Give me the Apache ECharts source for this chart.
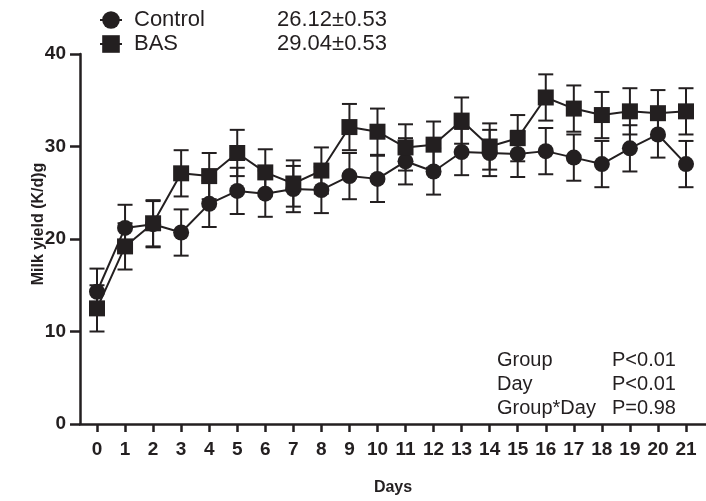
<!DOCTYPE html>
<html><head><meta charset="utf-8">
<script src="https://cdn.jsdelivr.net/npm/echarts@6/dist/echarts.min.js"></script>
<style>html,body{margin:0;padding:0;background:#fff}#c{width:706px;height:501px}</style>
</head><body><div id="c"></div>
<script>
// ---- data ----
const days = [0,1,2,3,4,5,6,7,8,9,10,11,12,13,14,15,16,17,18,19,20,21];
const controlMean = [14.3,21.2,21.6,20.7,23.8,25.2,24.9,25.4,25.3,26.8,26.5,28.4,27.3,29.4,29.3,29.2,29.5,28.8,28.1,29.8,31.3,28.1];
const controlSem  = [2.5,2.5,2.5,2.5,2.5,2.5,2.5,2.5,2.5,2.5,2.5,2.5,2.5,2.5,2.5,2.5,2.5,2.5,2.5,2.5,2.5,2.5];
const basMean = [12.5,19.2,21.7,27.1,26.8,29.3,27.2,26.0,27.4,32.1,31.6,29.9,30.2,32.8,30.0,30.9,35.3,34.1,33.4,33.8,33.6,33.8];
const basSem  = [2.5,2.5,2.5,2.5,2.5,2.5,2.5,2.5,2.5,2.5,2.5,2.5,2.5,2.5,2.5,2.5,2.5,2.5,2.5,2.5,2.5,2.5];
const seriesNames = ['Control','BAS'];
const legendStats = ['26.12±0.53','29.04±0.53'];
const yTicks = [0,10,20,30,40];
const effectNames = ['Group','Day','Group*Day'];
const effectP = ['P<0.01','P<0.01','P=0.98'];
const yAxisTitle = 'Milk yield (K/d)g';
const xAxisTitle = 'Days';

// ---- styling ----
const INK = '#231f20';
const FONT = '"Liberation Sans", Arial, Helvetica, sans-serif';

function errData(mean, sem){ return days.map((d,i)=>[d, mean[i]-sem[i], mean[i]+sem[i]]); }
function errRender(params, api){
  const x = api.value(0), lo = api.value(1), hi = api.value(2);
  const a = api.coord([x, lo]), b = api.coord([x, hi]);
  const hw = 7.5;
  const style = {stroke: INK, lineWidth: 2};
  return {type:'group', children:[
    {type:'line', shape:{x1:a[0], y1:a[1], x2:b[0], y2:b[1]}, style},
    {type:'line', shape:{x1:a[0]-hw, y1:a[1], x2:a[0]+hw, y2:a[1]}, style},
    {type:'line', shape:{x1:b[0]-hw, y1:b[1], x2:b[0]+hw, y2:b[1]}, style}
  ]};
}

const chart = echarts.init(document.getElementById('c'), null, {renderer:'canvas'});
const effectGraphics = [];
effectNames.forEach((n,i)=>{
  const y = 360 + i*24;
  effectGraphics.push({type:'text', x:497, y:y, style:{text:n, fill:INK, font:'20px '+FONT, textAlign:'left', textVerticalAlign:'middle'}});
  effectGraphics.push({type:'text', x:612, y:y, style:{text:effectP[i], fill:INK, font:'20px '+FONT, textAlign:'left', textVerticalAlign:'middle'}});
});

chart.setOption({
  animation:false,
  backgroundColor:'#fff',
  grid:{left:80, right:0, top:54, bottom:73, containLabel:false},
  legend:{
    data:seriesNames, orient:'vertical', left:99, top:9, padding:0, itemWidth:22, itemHeight:22, itemGap:2,
    formatter:function(name){ const i = seriesNames.indexOf(name); return '{a|'+name+'}{b|'+legendStats[i]+'}'; },
    textStyle:{color:INK, fontFamily:FONT, fontSize:22,
      rich:{a:{width:143, fontSize:22, fontFamily:FONT, color:INK, padding:[0,0,0,7]}, b:{fontSize:22, fontFamily:FONT, color:INK}}}
  },
  xAxis:{
    type:'value', min:-0.606, max:21.713,
    axisLine:{show:true, onZero:false, lineStyle:{color:INK, width:2.5}},
    axisTick:{show:true, customValues:days, length:8, lineStyle:{color:INK, width:2.5}},
    axisLabel:{customValues:days, color:INK, fontWeight:'bold', fontSize:19, fontFamily:FONT, margin:16},
    splitLine:{show:false},
    name:xAxisTitle, nameLocation:'middle', nameGap:56,
    nameTextStyle:{color:INK, fontWeight:'bold', fontSize:16, fontFamily:FONT}
  },
  yAxis:{
    type:'value', min:yTicks[0], max:yTicks[yTicks.length-1], interval:10,
    axisLine:{show:true, onZero:false, lineStyle:{color:INK, width:2.5}},
    axisTick:{show:true, length:10, lineStyle:{color:INK, width:2.5}},
    axisLabel:{color:INK, fontWeight:'bold', fontSize:19, fontFamily:FONT, margin:14},
    splitLine:{show:false}
  },
  graphic:[
    {type:'text', x:39, y:224, rotation:Math.PI/2,
     style:{text:yAxisTitle, fill:INK, font:'bold 16px '+FONT, textAlign:'center', textVerticalAlign:'middle'}}
  ].concat(effectGraphics),
  series:[
    {type:'custom', renderItem:errRender, data:errData(controlMean, controlSem), encode:{x:0, y:[1,2]}, z:2, silent:true},
    {type:'custom', renderItem:errRender, data:errData(basMean, basSem), encode:{x:0, y:[1,2]}, z:2, silent:true},
    {name:seriesNames[0], type:'line', data:days.map((d,i)=>[d, controlMean[i]]), symbol:'circle', symbolSize:16,
     lineStyle:{color:INK, width:2}, itemStyle:{color:INK}, z:3},
    {name:seriesNames[1], type:'line', data:days.map((d,i)=>[d, basMean[i]]), symbol:'rect', symbolSize:16,
     lineStyle:{color:INK, width:2}, itemStyle:{color:INK}, z:4}
  ]
});
</script></body></html>
